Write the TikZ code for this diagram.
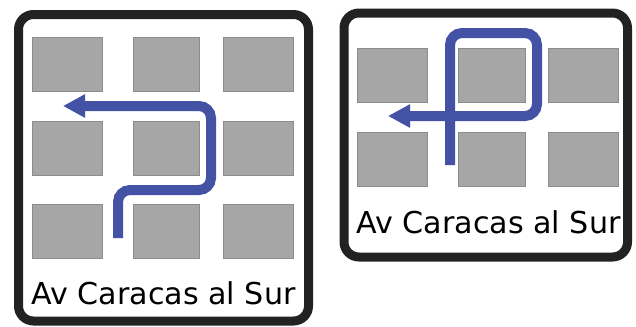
\documentclass[tikz,border=0pt]{standalone}
\usepackage{fontspec}
\setmainfont{DejaVu Sans}
\usepackage{tikz}
\usetikzlibrary{arrows.meta}
\definecolor{routeblue}{RGB}{68,82,166}
\definecolor{blockgray}{RGB}{166,166,166}
\definecolor{framegray}{RGB}{34,34,34}
\tikzstyle{route} = [-{Triangle[length=16.5pt,width=16.5pt]},line width=7.5pt,draw=routeblue,rounded corners=9pt]
\tikzstyle{block} = [draw=gray!90,fill=blockgray,line width=0.6pt,inner sep=0pt,minimum width=52.5pt,minimum height=40.5pt]
\tikzstyle{frame} = [draw=framegray,line width=6.75pt,rounded corners=11.25pt]
\tikzstyle{street} = [font=\fontsize{22.6pt}{24pt}\selectfont,anchor=base,inner sep=0pt]

\begin{document}
\begin{tikzpicture}[x=0.75pt,y=-0.75pt]
      \useasboundingbox (0,0) rectangle (636,326);

      \draw[frame] (18.5,14.5) rectangle (308.5,321);
      \draw[frame] (344,13) rectangle (627.5,257);

      \node[block] (l1) at (67, 64) {};
      \node[block, minimum width=49.5pt] (l2) at (166, 64) {};
      \node[block] (l3) at (258, 64) {};
      \node[block] (l4) at (67, 148) {};
      \node[block, minimum width=49.5pt] (l5) at (166, 148) {};
      \node[block] (l6) at (258, 148) {};
      \node[block] (l7) at (67, 231.5) {};
      \node[block, minimum width=49.5pt] (l8) at (166, 231.5) {};
      \node[block] (l9) at (258, 231.5) {};

      \node[block] (r1) at (392, 75) {};
      \node[block, minimum width=50.25pt] (r2) at (491.5, 75) {};
      \node[block] (r3) at (583.5, 75) {};
      \node[block] (r4) at (392, 159.5) {};
      \node[block, minimum width=50.25pt] (r5) at (491.5, 159.5) {};
      \node[block] (r6) at (583.5, 159.5) {};

      \coordinate (ls) at (118, 238);
      \coordinate (la) at (118, 190);
      \coordinate (lb) at (211, 190);
      \coordinate (lc) at (211, 106);
      \coordinate (le) at (63, 106);
      \draw[route] (ls) -- (la) -- (lb) -- (lc) -- (le);

      \coordinate (rs) at (450, 165);
      \coordinate (ra) at (450, 33);
      \coordinate (rb) at (537, 33);
      \coordinate (rc) at (537, 116);
      \coordinate (re) at (388, 116);
      \draw[route] (rs) -- (ra) -- (rb) -- (rc) -- (re);

      \node[street] (lname) at (163.5, 304) {Av Caracas al Sur};
      \node[street] (rname) at (488.5, 233) {Av Caracas al Sur};
    \end{tikzpicture}
\end{document}
